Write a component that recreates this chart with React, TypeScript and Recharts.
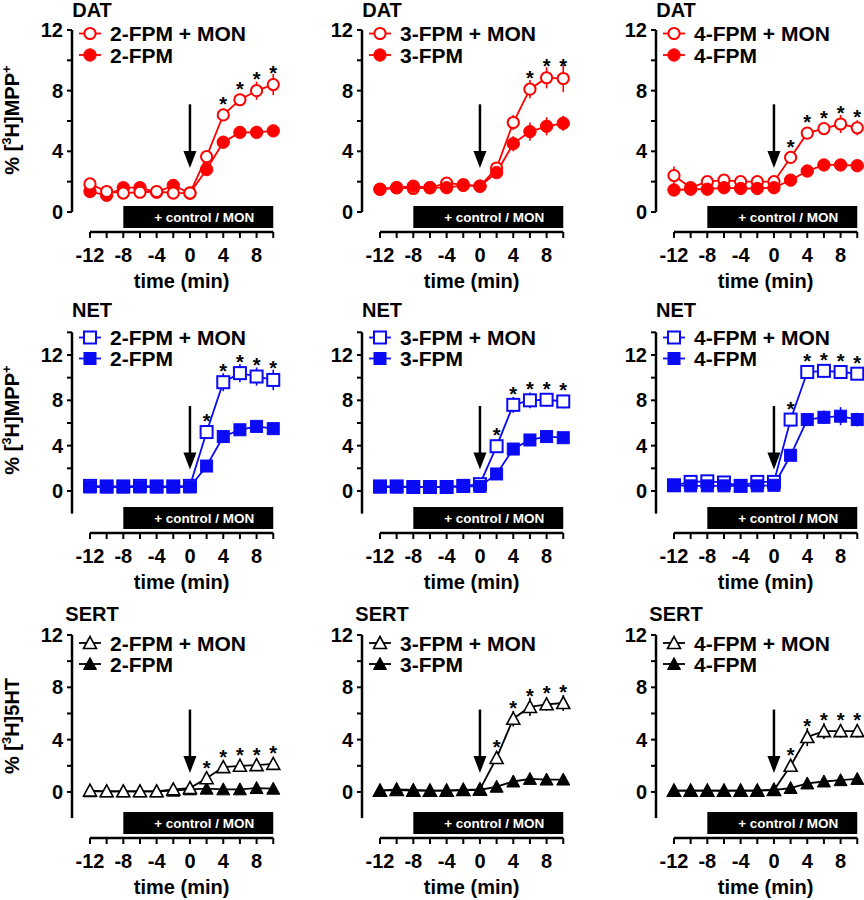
import React from 'react'
import { ComposedChart, Line, XAxis, YAxis, ReferenceLine, ReferenceArea, ErrorBar, LabelList } from 'recharts'

const FONT = '"Liberation Sans", Arial, Helvetica, sans-serif'

const times = [-12, -10, -8, -6, -4, -2, 0, 2, 4, 6, 8, 10]
const xTicks = [-12, -10, -8, -6, -4, -2, 0, 2, 4, 6, 8, 10]
const drugs = ['2-FPM', '3-FPM', '4-FPM']
const transporters = ['DAT', 'NET', 'SERT']

// DAT
const dat2Mon = [1.85, 1.35, 1.25, 1.3, 1.35, 1.25, 1.25, 3.65, 6.4, 7.4, 8.0, 8.4]
const dat2MonErr = [0.2, 0.1, 0.1, 0.1, 0.1, 0.1, 0.1, 0.3, 0.4, 0.4, 0.6, 0.7]
const dat2Base = [1.35, 1.1, 1.6, 1.6, 1.3, 1.75, 1.25, 2.8, 4.6, 5.25, 5.25, 5.35]
const dat2BaseErr = [0.15, 0.1, 0.2, 0.2, 0.1, 0.2, 0.1, 0.3, 0.3, 0.2, 0.2, 0.2]
const dat2Stars = [4, 6, 8, 10]

const dat3Mon = [1.5, 1.6, 1.55, 1.6, 1.9, 1.8, 1.7, 2.9, 5.9, 8.1, 8.85, 8.8]
const dat3MonErr = [0.1, 0.1, 0.1, 0.1, 0.2, 0.1, 0.1, 0.3, 0.5, 0.6, 0.7, 0.9]
const dat3Base = [1.5, 1.6, 1.7, 1.6, 1.6, 1.75, 1.7, 2.6, 4.5, 5.3, 5.65, 5.85]
const dat3BaseErr = [0.1, 0.1, 0.1, 0.1, 0.1, 0.1, 0.1, 0.3, 0.5, 0.6, 0.6, 0.5]
const dat3Stars = [6, 8, 10]

const dat4Mon = [2.4, 1.6, 2.0, 2.1, 2.0, 2.0, 2.0, 3.6, 5.2, 5.5, 5.8, 5.55]
const dat4MonErr = [0.6, 0.1, 0.2, 0.2, 0.2, 0.2, 0.2, 0.3, 0.3, 0.3, 0.6, 0.5]
const dat4Base = [1.45, 1.5, 1.5, 1.6, 1.55, 1.55, 1.6, 2.1, 2.7, 3.1, 3.1, 3.05]
const dat4BaseErr = [0.1, 0.1, 0.1, 0.1, 0.1, 0.1, 0.1, 0.15, 0.2, 0.2, 0.2, 0.2]
const dat4Stars = [2, 4, 6, 8, 10]

// NET
const net2Mon = [0.45, 0.4, 0.4, 0.45, 0.4, 0.4, 0.45, 5.2, 9.6, 10.4, 10.1, 9.8]
const net2MonErr = [0.1, 0.1, 0.1, 0.1, 0.1, 0.1, 0.1, 0.6, 0.8, 0.8, 0.8, 0.9]
const net2Base = [0.35, 0.35, 0.35, 0.35, 0.35, 0.35, 0.35, 2.2, 4.8, 5.4, 5.7, 5.5]
const net2BaseErr = [0.1, 0.1, 0.1, 0.1, 0.1, 0.1, 0.1, 0.3, 0.4, 0.4, 0.5, 0.4]
const net2Stars = [2, 4, 6, 8, 10]

const net3Mon = [0.4, 0.4, 0.35, 0.35, 0.35, 0.45, 0.6, 3.95, 7.6, 8.0, 8.05, 7.9]
const net3MonErr = [0.1, 0.1, 0.1, 0.1, 0.1, 0.1, 0.1, 0.5, 0.7, 0.7, 0.6, 0.6]
const net3Base = [0.35, 0.35, 0.35, 0.35, 0.35, 0.4, 0.4, 1.5, 3.7, 4.5, 4.8, 4.7]
const net3BaseErr = [0.1, 0.1, 0.1, 0.1, 0.1, 0.1, 0.1, 0.2, 0.3, 0.3, 0.3, 0.3]
const net3Stars = [2, 4, 6, 8, 10]

const net4Mon = [0.5, 0.8, 0.85, 0.75, 0.45, 0.8, 0.8, 6.3, 10.5, 10.6, 10.5, 10.35]
const net4MonErr = [0.1, 0.1, 0.1, 0.1, 0.1, 0.1, 0.1, 0.6, 0.5, 0.6, 0.5, 0.5]
const net4Base = [0.5, 0.45, 0.45, 0.45, 0.45, 0.45, 0.5, 3.15, 6.3, 6.5, 6.6, 6.3]
const net4BaseErr = [0.1, 0.1, 0.1, 0.1, 0.1, 0.1, 0.1, 0.3, 0.5, 0.6, 0.8, 0.6]
const net4Stars = [2, 4, 6, 8, 10]

// SERT
const sert2Mon = [0.1, 0.05, 0.05, 0.05, 0.05, 0.2, 0.3, 1.05, 1.9, 2.0, 2.05, 2.15]
const sert2MonErr = [0.05, 0.05, 0.05, 0.05, 0.05, 0.05, 0.05, 0.2, 0.3, 0.3, 0.3, 0.3]
const sert2Base = [0.05, 0.05, 0.05, 0.05, 0.05, 0.1, 0.2, 0.25, 0.2, 0.2, 0.3, 0.25]
const sert2BaseErr = [0.05, 0.05, 0.05, 0.05, 0.05, 0.05, 0.05, 0.05, 0.05, 0.05, 0.05, 0.05]
const sert2Stars = [2, 4, 6, 8, 10]

const sert3Mon = [0.1, 0.15, 0.1, 0.1, 0.1, 0.15, 0.2, 2.6, 5.6, 6.5, 6.7, 6.8]
const sert3MonErr = [0.05, 0.05, 0.05, 0.05, 0.05, 0.05, 0.05, 0.4, 0.6, 0.7, 0.5, 0.6]
const sert3Base = [0.1, 0.2, 0.15, 0.1, 0.1, 0.15, 0.15, 0.4, 0.8, 1.0, 0.95, 0.95]
const sert3BaseErr = [0.05, 0.05, 0.05, 0.05, 0.05, 0.05, 0.05, 0.05, 0.1, 0.1, 0.1, 0.1]
const sert3Stars = [2, 4, 6, 8, 10]

const sert4Mon = [0.1, 0.1, 0.1, 0.1, 0.1, 0.1, 0.15, 2.0, 4.2, 4.65, 4.65, 4.65]
const sert4MonErr = [0.05, 0.05, 0.05, 0.05, 0.05, 0.05, 0.05, 0.3, 0.7, 0.6, 0.5, 0.5]
const sert4Base = [0.1, 0.1, 0.1, 0.1, 0.1, 0.1, 0.15, 0.3, 0.65, 0.8, 0.9, 1.0]
const sert4BaseErr = [0.05, 0.05, 0.05, 0.05, 0.05, 0.05, 0.05, 0.05, 0.1, 0.1, 0.1, 0.1]
const sert4Stars = [2, 4, 6, 8, 10]

const panels = [
  [
    { mon: dat2Mon, monErr: dat2MonErr, base: dat2Base, baseErr: dat2BaseErr, stars: dat2Stars, openOnTop: true },
    { mon: dat3Mon, monErr: dat3MonErr, base: dat3Base, baseErr: dat3BaseErr, stars: dat3Stars, openOnTop: false },
    { mon: dat4Mon, monErr: dat4MonErr, base: dat4Base, baseErr: dat4BaseErr, stars: dat4Stars, openOnTop: false },
  ],
  [
    { mon: net2Mon, monErr: net2MonErr, base: net2Base, baseErr: net2BaseErr, stars: net2Stars, openOnTop: false },
    { mon: net3Mon, monErr: net3MonErr, base: net3Base, baseErr: net3BaseErr, stars: net3Stars, openOnTop: false },
    { mon: net4Mon, monErr: net4MonErr, base: net4Base, baseErr: net4BaseErr, stars: net4Stars, openOnTop: false },
  ],
  [
    { mon: sert2Mon, monErr: sert2MonErr, base: sert2Base, baseErr: sert2BaseErr, stars: sert2Stars, openOnTop: true },
    { mon: sert3Mon, monErr: sert3MonErr, base: sert3Base, baseErr: sert3BaseErr, stars: sert3Stars, openOnTop: false },
    { mon: sert4Mon, monErr: sert4MonErr, base: sert4Base, baseErr: sert4BaseErr, stars: sert4Stars, openOnTop: false },
  ],
]

// layout
const COL_X = [0, 290, 584]
const ROW_Y = [0, 300, 600]
const CHART_W = 290
const CHART_H = 300
const PLOT_LEFT = 72
const PLOT_RIGHT = 280
const X_DOMAIN: [number, number] = [-14.16, 10.81]

const rows = [
  { color: '#ff0000', shape: 'circle', top: 30, bottom: 232, domain: [-1.32, 12], axis: [0, 12], yTicks: [0, 2, 4, 6, 8, 10, 12], arrow: [7.1, 2.9], titleY: 17, legendY: [33.5, 55], yLabelY: 120, yLabel: 'MPP' },
  { color: '#0a0af5', shape: 'square', top: 32, bottom: 233, domain: [-3.71, 14.03], axis: [-2, 14], yTicks: [0, 2, 4, 6, 8, 10, 12, 14], arrow: [7.5, 1.9], titleY: 17, legendY: [37.5, 58.5], yLabelY: 120, yLabel: 'MPP' },
  { color: '#000000', shape: 'triangle', top: 35, bottom: 238, domain: [-3.52, 12], axis: [-2, 12], yTicks: [0, 2, 4, 6, 8, 10, 12], arrow: [6.3, 1.45], titleY: 21, legendY: [43, 64], yLabelY: 126, yLabel: '5HT' },
]

function Marker({ shape, open, color, cx, cy }: any) {
  const fill = open ? '#ffffff' : color
  const sw = open ? 2 : 1
  if (shape === 'circle') return <circle cx={cx} cy={cy} r={open ? 5.6 : 6.2} fill={fill} stroke={color} strokeWidth={sw} />
  if (shape === 'square') return <rect x={cx - 6} y={cy - 6} width={12} height={12} fill={fill} stroke={color} strokeWidth={sw} />
  return <polygon points={`${cx},${cy - 6.5} ${cx - 6.5},${cy + 5.5} ${cx + 6.5},${cy + 5.5}`} fill={fill} stroke={color} strokeWidth={open ? 1.6 : 1} strokeLinejoin="miter" />
}

function Panel({ row, col }: { row: number; col: number }) {
  const r = rows[row]
  const p = panels[row][col]
  const [yMin, yMax] = r.domain
  const plotH = r.bottom - r.top
  const unit = plotH / (yMax - yMin)
  const data = times.map((t, i) => ({
    t,
    mon: p.mon[i],
    monErr: p.monErr[i],
    base: p.base[i],
    baseErr: p.baseErr[i],
    star: p.stars.includes(t) ? p.monErr[i] : null,
  }))
  const drug = drugs[col]
  const textStyle = { fontFamily: FONT, fontWeight: 'bold' as const, fill: '#000' }

  const decor = () => (
    <g style={{ fontFamily: FONT, fontWeight: 'bold' }}>
      <text x={PLOT_LEFT + 20} y={r.titleY} textAnchor="middle" fontSize={20} fill="#000">{transporters[row]}</text>
      {[true, false].map((open, k) => (
        <g key={k}>
          <line x1={PLOT_LEFT + 7} x2={PLOT_LEFT + 29} y1={r.legendY[k]} y2={r.legendY[k]} stroke={r.color} strokeWidth={1.8} />
          <Marker shape={r.shape} open={open} color={r.color} cx={PLOT_LEFT + 18} cy={r.legendY[k]} />
          <text x={PLOT_LEFT + 38} y={r.legendY[k] + 7.5} fontSize={21} fill="#000">{open ? `${drug} + MON` : drug}</text>
        </g>
      ))}
      {col === 0 && (
        <text x={19} y={r.yLabelY} transform={`rotate(-90 19 ${r.yLabelY})`} textAnchor="middle" fontSize={20} fill="#000">
          <tspan>% [</tspan>
          <tspan dy={-8} fontSize={13}>3</tspan>
          <tspan dy={8}>H]{r.yLabel}</tspan>
          {r.yLabel === 'MPP' && <tspan dy={-8} fontSize={13}>+</tspan>}
        </text>
      )}
    </g>
  )

  const timeLabel = (props: any) => {
    const vb = props.viewBox || {}
    const cx = vb.x + ((-1 - X_DOMAIN[0]) / (X_DOMAIN[1] - X_DOMAIN[0])) * vb.width
    return <text x={cx} y={vb.y + 56} textAnchor="middle" fontSize={20} {...textStyle}>time (min)</text>
  }

  const barLabel = (props: any) => {
    const vb = props.viewBox || {}
    return <text x={vb.x + vb.width / 2 + 6} y={vb.y + vb.height / 2 + 4.5} textAnchor="middle" fontSize={13.5} fontFamily={FONT} fontWeight="bold" fill="#fff">+ control / MON</text>
  }

  const arrowShape = (props: any) => {
    const x = props.x1
    const top = Math.min(props.y1, props.y2)
    const tip = Math.max(props.y1, props.y2)
    return (
      <g>
        <line x1={x} x2={x} y1={top} y2={tip - 14} stroke="#000" strokeWidth={2.5} />
        <polygon points={`${x - 6.5},${tip - 17} ${x + 6.5},${tip - 17} ${x},${tip}`} fill="#000" />
      </g>
    )
  }

  const starLabel = (props: any) => {
    const { x, y, value } = props
    if (value == null || x == null || y == null) return null
    return <text x={x} y={y - 3 - 0.15 * value * unit} textAnchor="middle" fontSize={20} {...textStyle}>*</text>
  }

  const monLine = (
    <Line key="mon" dataKey="mon" type="linear" stroke={r.color} strokeWidth={1.8} isAnimationActive={false} activeDot={false}
      dot={(d: any) => <Marker key={`m${d.index}`} shape={r.shape} open color={r.color} cx={d.cx} cy={d.cy} />}>
      <ErrorBar dataKey="monErr" width={0} stroke={r.color} strokeWidth={1.6} direction="y" />
      <LabelList dataKey="star" content={starLabel} />
    </Line>
  )
  const baseLine = (
    <Line key="base" dataKey="base" type="linear" stroke={r.color} strokeWidth={1.8} isAnimationActive={false} activeDot={false}
      dot={(d: any) => <Marker key={`b${d.index}`} shape={r.shape} open={false} color={r.color} cx={d.cx} cy={d.cy} />}>
      <ErrorBar dataKey="baseErr" width={0} stroke={r.color} strokeWidth={1.6} direction="y" />
    </Line>
  )

  return (
    <div style={{ position: 'absolute', left: COL_X[col], top: ROW_Y[row], width: CHART_W, height: CHART_H }}>
      <ComposedChart width={CHART_W} height={CHART_H} data={data}
        margin={{ top: r.top, right: CHART_W - PLOT_RIGHT, bottom: 0, left: PLOT_LEFT - 60 }}>
        <XAxis dataKey="t" type="number" domain={X_DOMAIN} ticks={xTicks} interval={0}
          tickFormatter={(v: number) => (v % 4 === 0 ? String(v) : '')}
          height={CHART_H - r.bottom} axisLine={false} tickSize={6} tickMargin={10}
          tickLine={{ stroke: '#000', strokeWidth: 2 }}
          tick={{ fontSize: 20, fontFamily: FONT, fontWeight: 'bold', fill: '#000' }}
          label={{ content: timeLabel }} />
        <YAxis type="number" domain={[yMin, yMax]} ticks={r.yTicks} interval={0} width={60}
          tickFormatter={(v: number) => (v % 4 === 0 ? String(v) : '')}
          axisLine={false} tickSize={5} tickMargin={4}
          tickLine={{ stroke: '#000', strokeWidth: 2 }}
          tick={{ fontSize: 20, fontFamily: FONT, fontWeight: 'bold', fill: '#000' }}
          label={{ content: decor }} />
        <ReferenceArea x1={-8} x2={10} y1={yMin + 4 / unit} y2={yMin + 26 / unit} fill="#000" fillOpacity={1} stroke="none"
          ifOverflow="visible" label={{ content: barLabel }} />
        <ReferenceLine segment={[{ x: X_DOMAIN[0], y: r.axis[0] }, { x: X_DOMAIN[0], y: r.axis[1] }]} stroke="#000" strokeWidth={2.5} ifOverflow="visible" />
        <ReferenceLine segment={[{ x: -12, y: yMin }, { x: 10, y: yMin }]} stroke="#000" strokeWidth={2.5} ifOverflow="visible" />
        <ReferenceLine segment={[{ x: 0, y: r.arrow[0] }, { x: 0, y: r.arrow[1] }]} ifOverflow="visible" shape={arrowShape} />
        {p.openOnTop ? [baseLine, monLine] : [monLine, baseLine]}
      </ComposedChart>
    </div>
  )
}

export default function App() {
  return (
    <div style={{ position: 'absolute', left: 0, top: 0, width: 864, height: 900, overflow: 'hidden', background: '#fff' }}>
      {[0, 1, 2].map((row) => [0, 1, 2].map((col) => <Panel key={`${row}-${col}`} row={row} col={col} />))}
    </div>
  )
}
